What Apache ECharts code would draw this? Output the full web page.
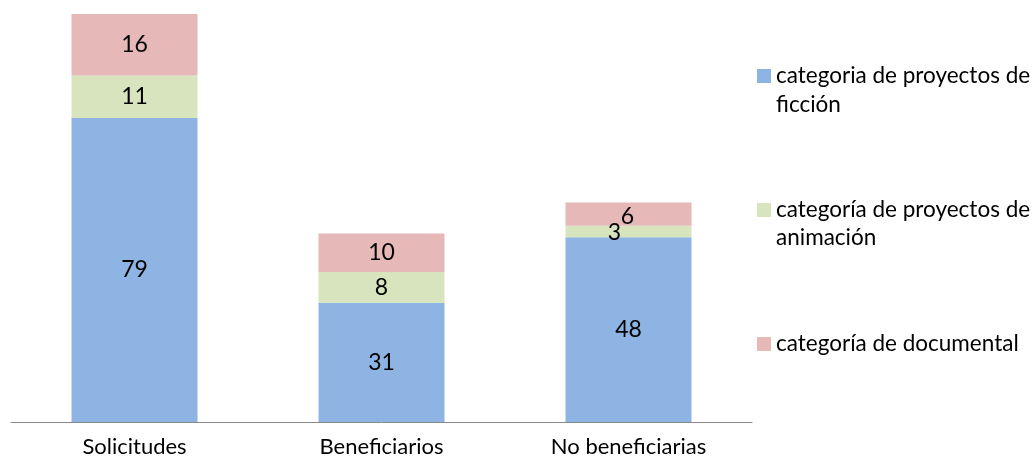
<!DOCTYPE html>
<html>
<head>
<meta charset="utf-8">
<script src="https://cdn.jsdelivr.net/npm/echarts@6/dist/echarts.min.js"></script>
<style>
  html, body { margin: 0; padding: 0; background: #fff; }
  #chart { width: 1032px; height: 462px; }
</style>
</head>
<body>
<div id="chart"></div>
<script>
const categories = ["Solicitudes", "Beneficiarios", "No beneficiarias"];
const ficcion = [79, 31, 48];
const animacion = [11, 8, 3];
const documental = [16, 10, 6];
const seriesNames = [
  "categoria de proyectos de ficción",
  "categoría de proyectos de animación",
  "categoría de documental"
];
// first line shown in the legend, second line drawn under it
const legendLines = {
  "categoria de proyectos de ficción": ["categoria de proyectos de", "ficción"],
  "categoría de proyectos de animación": ["categoría de proyectos de", "animación"],
  "categoría de documental": ["categoría de documental", ""]
};

const font = "Lato";
const chart = echarts.init(document.getElementById("chart"));

// label nudges where the small segments overlap (like Excel did)
const labelOffsets = { "1-2": [-14, 1], "2-2": [-1, 2] };

function makeData(values, s) {
  return values.map((v, i) => {
    const off = labelOffsets[s + "-" + i];
    return off ? { value: v, label: { offset: off } } : v;
  });
}

const colors = ["#8EB4E3", "#D7E4BD", "#E6B9B8"];
const legendFont = 22.5;

const option = {
  animation: false,
  grid: { left: 11, right: 280, top: 14, bottom: 40 },
  xAxis: {
    type: "category",
    data: categories,
    axisTick: { show: false },
    axisLine: { lineStyle: { color: "#898989", width: 1 } },
    axisLabel: { fontFamily: font, fontSize: 22, color: "#000", margin: 14 }
  },
  yAxis: {
    type: "value",
    min: 0,
    max: 106,
    show: false,
    splitLine: { show: false }
  },
  legend: {
    orient: "vertical",
    left: 752,
    top: 58,
    itemWidth: 14,
    itemHeight: 14,
    itemGap: 108,
    icon: "rect",
    data: seriesNames,
    formatter: (name) => legendLines[name][0],
    textStyle: { fontFamily: font, fontSize: legendFont, color: "#000", lineHeight: 26 }
  },
  graphic: [
    { type: "text", x: 776, y: 105, style: { text: legendLines[seriesNames[0]][1], font: legendFont + "px " + font, fill: "#000", verticalAlign: "middle" } },
    { type: "text", x: 776, y: 238, style: { text: legendLines[seriesNames[1]][1], font: legendFont + "px " + font, fill: "#000", verticalAlign: "middle" } }
  ],
  series: [ficcion, animacion, documental].map((vals, s) => ({
    name: seriesNames[s],
    type: "bar",
    stack: "total",
    barWidth: 126,
    itemStyle: { color: colors[s] },
    label: {
      show: true,
      position: "inside",
      fontFamily: font,
      fontSize: 23,
      color: "#000"
    },
    data: makeData(vals, s)
  }))
};

chart.setOption(option);
</script>
</body>
</html>
